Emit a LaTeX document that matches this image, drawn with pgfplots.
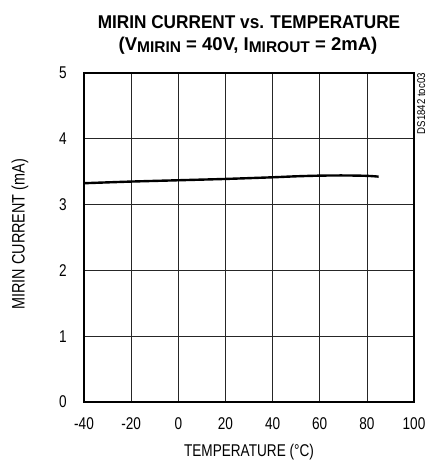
\documentclass[border=0pt]{standalone}
\usepackage{pgfplots}
\pgfplotsset{compat=1.18}
\usepackage{fontspec}
\setmainfont{Liberation Sans}[FakeStretch=0.80]
\newfontfamily\titlefont{Liberation Sans}[FakeStretch=0.93]
\newfontfamily\titlefontb{Liberation Sans}[FakeStretch=1.0]
\newfontfamily\smallfont{Liberation Sans}[FakeStretch=0.85]
\begin{document}
\begin{tikzpicture}
\path[use as bounding box] (-84pt,-58pt) rectangle (343pt,402pt);
\begin{axis}[
  scale only axis,
  width=330pt, height=329pt,
  xmin=-40, xmax=100, ymin=0, ymax=5,
  xtick={-40,-20,0,20,40,60,80,100},
  ytick={0,1,2,3,4,5},
  /pgf/number format/assume math mode=true,
  tick label style={font=\fontsize{17}{20}\selectfont, inner sep=0pt},
  xticklabel style={anchor=north, yshift=-15pt},
  yticklabel style={anchor=east, xshift=-17pt},
  major tick length=0pt,
  grid=major,
  major grid style={black!85, line width=0.7pt},
  axis line style={line width=2.2pt},
  xlabel={TEMPERATURE (°C)},
  ylabel={MIRIN CURRENT (mA)},
  xlabel style={font=\fontsize{17}{20}\selectfont, at={(axis description cs:0.5,0)}, anchor=base, yshift=-54pt},
  ylabel style={font=\fontsize{18}{20}\selectfont, at={(axis description cs:-0.194,0.51)}, anchor=center},
]
\addplot[black, line width=2.4pt, smooth] coordinates {
(-40,3.325) (-20,3.35) (0,3.37) (20,3.39) (40,3.415) (50,3.43) (60,3.44) (70,3.443) (80,3.437) (85,3.425)
};
\end{axis}
\node[font=\titlefont\bfseries\fontsize{18.5}{20}\selectfont, anchor=base] at (165pt,373pt) {MIRIN CURRENT vs. TEMPERATURE};
\node[font=\titlefontb\bfseries\fontsize{18.5}{20}\selectfont, anchor=base] at (164pt,351pt) {(V\raisebox{-1.5pt}{\fontsize{15.5}{15}\selectfont MIRIN} = 40V, I\raisebox{-1.5pt}{\fontsize{15.5}{15}\selectfont MIROUT} = 2mA)};
\node[font=\smallfont\fontsize{11.3}{12}\selectfont, rotate=90, anchor=north east, inner sep=0pt] at (333pt,329pt) {DS1842 toc03};
\end{tikzpicture}
\end{document}
